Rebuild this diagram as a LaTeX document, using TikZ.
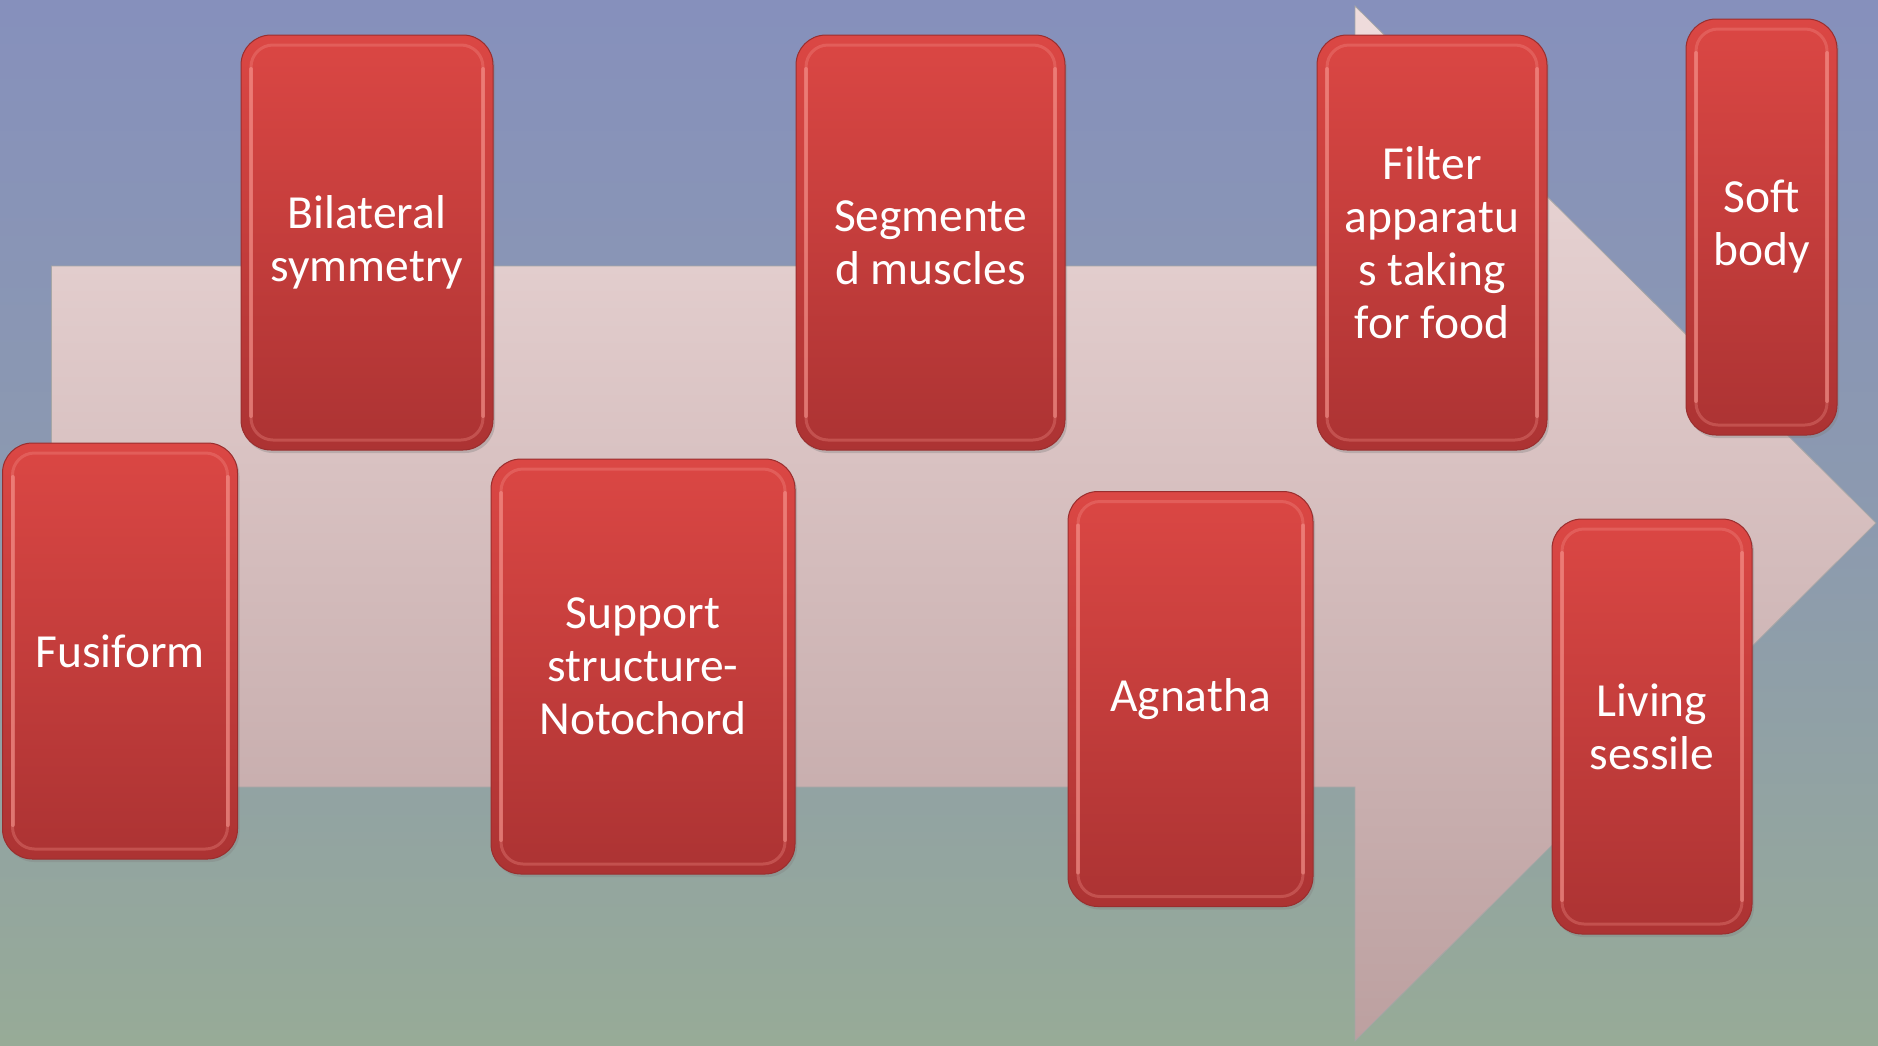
\documentclass[tikz,border=0pt]{standalone}
\usepackage{fontspec}
\setmainfont{Carlito}
\usetikzlibrary{shadows}
\definecolor{bgtop}{HTML}{8690BC}
\definecolor{bgmid}{HTML}{8C9AAF}
\definecolor{bgbot}{HTML}{97AB97}
\definecolor{arrtop}{HTML}{EFDCDC}
\definecolor{arrbot}{HTML}{BCA0A0}
\definecolor{boxtop}{HTML}{DB4744}
\definecolor{boxbot}{HTML}{AC3333}
\definecolor{boxedge}{HTML}{9A2E2E}
\definecolor{boxhi}{HTML}{F6958E}
\tikzset{
  redbox/.style={rectangle, rounded corners=30pt, inner sep=0pt, align=center,
    top color=boxtop, bottom color=boxbot, draw=boxedge, line width=1pt,
    text=white, font=\fontsize{47.5}{53}\selectfont,
    drop shadow={shadow xshift=2pt, shadow yshift=-3pt, opacity=0.35},
    path picture={
      \draw[boxhi, line width=3pt, opacity=0.3, rounded corners=22pt]
        ([shift={(10pt,-10pt)}]path picture bounding box.north west) rectangle
        ([shift={(-10pt,10pt)}]path picture bounding box.south east);
      \draw[boxhi, line width=4pt, opacity=0.55, line cap=round]
        ([shift={(10pt,-34pt)}]path picture bounding box.north west) --
        ([shift={(10pt,34pt)}]path picture bounding box.south west);
      \draw[boxhi, line width=4pt, opacity=0.55, line cap=round]
        ([shift={(-10pt,-34pt)}]path picture bounding box.north east) --
        ([shift={(-10pt,34pt)}]path picture bounding box.south east);
    }},
  bigarrow/.style={top color=arrtop, bottom color=arrbot, draw=black!35, line width=0.8pt}
}
\begin{document}
\begin{tikzpicture}[x=1pt, y=-1pt]
  \useasboundingbox (0,0) rectangle (1878,1045);
  \shade[top color=bgtop, bottom color=bgbot, middle color=bgmid] (0,0) rectangle (1878,1045);
  \path[bigarrow] (51.5,266) -- (1355,266) -- (1355,6) -- (1876,523) -- (1355,1041) -- (1355,787) -- (51.5,787) -- cycle;
  \node[redbox, minimum width=235pt, minimum height=416pt] (fus) at (120,651) {Fusiform};
  \node[redbox, minimum width=252pt, minimum height=415pt] (bil) at (367,242.5) {Bilateral\\symmetry};
  \node[redbox, minimum width=304pt, minimum height=415pt] (sup) at (643,666.5) {Support\\structure-\\Notochord};
  \node[redbox, minimum width=269pt, minimum height=415pt] (seg) at (930.5,242.5) {Segmente\\d muscles};
  \node[redbox, minimum width=245pt, minimum height=415pt] (agn) at (1190.5,699) {Agnatha};
  \node[redbox, minimum width=230pt, minimum height=415pt] (fil) at (1432,242.5) {Filter\\apparatu\\s taking\\for food};
  \node[redbox, minimum width=200pt, minimum height=415pt] (liv) at (1652,726.5) {Living\\sessile};
  \node[redbox, minimum width=151pt, minimum height=416pt] (sof) at (1761.5,227) {Soft\\body};
\end{tikzpicture}
\end{document}
